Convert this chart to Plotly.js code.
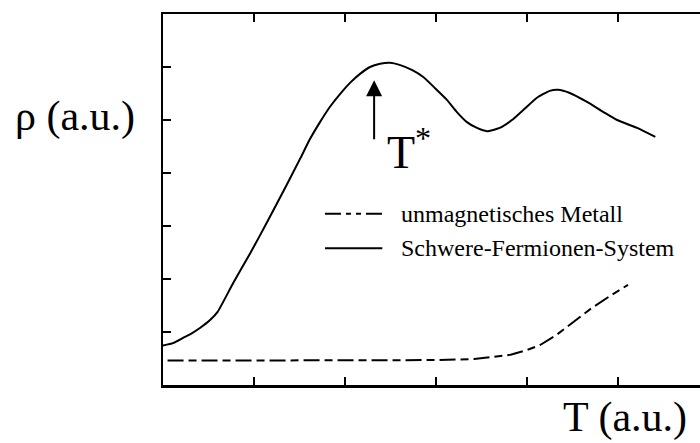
<!DOCTYPE html>
<html>
<head>
<meta charset="utf-8">
<script src="https://cdn.plot.ly/plotly-3.0.1.min.js"></script>
<style>
  html, body { margin: 0; padding: 0; background: #fff; overflow: hidden; width: 700px; height: 443px; }
  #chart { width: 720px; height: 443px; }
</style>
</head>
<body>
<div id="chart"></div>
<script>
// Schematic resistivity rho(T), arbitrary units
const seriesNames = ['unmagnetisches Metall', 'Schwere-Fermionen-System'];

// unmagnetic metal: constant residual resistivity, then phonon rise
const metalT   = [0.05, 1.0, 2.0, 3.0, 3.42, 3.64, 3.82, 4.00, 4.14, 4.32, 4.49, 4.71, 4.93, 5.11];
const metalRho = [0.46, 0.46, 0.46, 0.47, 0.49, 0.53, 0.57, 0.66, 0.75, 0.94, 1.17, 1.45, 1.70, 1.89];

// heavy-fermion system: maximum at T*, minimum, second maximum
const hfT   = [0.00, 0.11, 0.22, 0.32, 0.41, 0.52, 0.60, 0.77, 0.96, 1.14, 1.37, 1.51, 1.615, 1.725, 1.835,
               1.945, 2.055, 2.165, 2.275, 2.385, 2.495, 2.60, 2.74, 2.86, 2.99, 3.12, 3.23, 3.34, 3.45, 3.56,
               3.70, 3.85, 3.96, 4.11, 4.25, 4.34, 4.47, 4.66, 4.84, 4.99, 5.21, 5.41];
const hfRho = [0.745, 0.79, 0.89, 0.98, 1.08, 1.23, 1.38, 1.92, 2.49, 3.06, 3.81, 4.28, 4.64, 4.96, 5.25,
               5.49, 5.70, 5.87, 6.00, 6.06, 6.08, 6.04, 5.94, 5.81, 5.60, 5.38, 5.15, 4.96, 4.85, 4.79,
               4.85, 5.02, 5.19, 5.42, 5.55, 5.57, 5.51, 5.34, 5.15, 5.00, 4.85, 4.68];

// position of the coherence temperature T*
const tStar = 2.32;
const tStarArrow = [4.45, 5.75];

const xTicks = [1, 2, 3, 4, 5, 6];
const yTicks = [1, 2, 3, 4, 5, 6];

const dashMetal = '16px,5px,8px,5px';
const serif = 'Liberation Serif';

const traces = [
  { x: metalT, y: metalRho, name: seriesNames[0], mode: 'lines',
    line: { color: '#000', width: 2, dash: dashMetal }, hoverinfo: 'skip' },
  { x: hfT, y: hfRho, name: seriesNames[1], mode: 'lines',
    line: { color: '#000', width: 2, shape: 'spline', smoothing: 0.5 }, hoverinfo: 'skip' }
];

const axisCommon = {
  showgrid: false, zeroline: false, showline: true, linecolor: '#000', linewidth: 2.5,
  mirror: 'ticks', ticks: 'inside', ticklen: 8, tickwidth: 2, tickcolor: '#000',
  showticklabels: false, fixedrange: true
};

// hand-drawn legend (sample lines + labels)
const legendX = [1.78, 2.41];
const legendY = [3.23, 2.58];

const layout = {
  width: 720, height: 443,
  margin: { l: 163, r: 11, t: 14, b: 58 },
  paper_bgcolor: '#fff', plot_bgcolor: '#fff',
  showlegend: false,
  xaxis: Object.assign({ range: [0, 6], tickvals: xTicks }, axisCommon),
  yaxis: Object.assign({ range: [0, 7], tickvals: yTicks }, axisCommon),
  shapes: [
    { type: 'line', xref: 'x', yref: 'y', x0: legendX[0], x1: legendX[1], y0: legendY[0], y1: legendY[0],
      line: { color: '#000', width: 2, dash: '16px,5px,5px,5px,5px,5px' } },
    { type: 'line', xref: 'x', yref: 'y', x0: legendX[0], x1: legendX[1], y0: legendY[1], y1: legendY[1],
      line: { color: '#000', width: 2 } }
  ],
  annotations: [
    { xref: 'x', yref: 'y', x: 2.59, y: legendY[0], text: seriesNames[0], showarrow: false,
      xanchor: 'left', yanchor: 'middle', font: { family: serif, size: 24, color: '#000' } },
    { xref: 'x', yref: 'y', x: 2.59, y: legendY[1], text: seriesNames[1], showarrow: false,
      xanchor: 'left', yanchor: 'middle', font: { family: serif, size: 24, color: '#000' } },
    // arrow marking T*
    { xref: 'x', yref: 'y', axref: 'x', ayref: 'y', x: tStar, y: tStarArrow[1], ax: tStar, ay: tStarArrow[0],
      text: ' ', showarrow: true, arrowhead: 2, arrowsize: 1.6, arrowwidth: 2, arrowcolor: '#000', standoff: 0 },
    { xref: 'x', yref: 'y', x: 2.44, y: 4.45, text: 'T<sup>*</sup>', showarrow: false,
      xanchor: 'left', yanchor: 'middle', font: { family: serif, size: 46, color: '#000' } },
    // axis labels
    { xref: 'paper', yref: 'paper', x: -0.2747, y: 0.725, text: 'ρ (a.u.)', showarrow: false,
      xanchor: 'left', yanchor: 'middle', font: { family: serif, size: 42, color: '#000' } },
    { xref: 'paper', yref: 'paper', x: 0.729, y: -0.087, text: 'T (a.u.)', showarrow: false,
      xanchor: 'left', yanchor: 'middle', font: { family: serif, size: 42, color: '#000' } }
  ]
};

Plotly.newPlot('chart', traces, layout, { staticPlot: true, displayModeBar: false });
</script>
</body>
</html>
